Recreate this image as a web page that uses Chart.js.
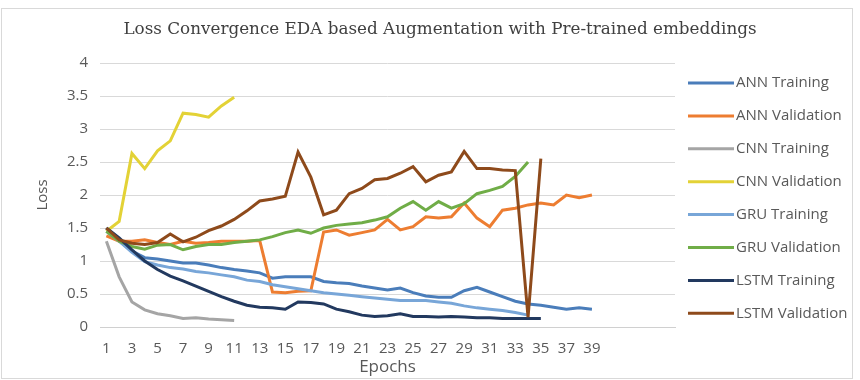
<!DOCTYPE html>
<html>
<head>
<meta charset="utf-8">
<script src="https://cdn.jsdelivr.net/npm/chart.js@4.4.1/dist/chart.umd.min.js"></script>
<style>
  html, body { margin: 0; padding: 0; background: #ffffff; }
  #wrap { width: 860px; height: 380px; }
</style>
</head>
<body>
<div id="wrap"><canvas id="lossChart" width="860" height="380"></canvas></div>
<script>
// Epoch labels (the axis keeps a few empty slots after epoch 39)
const epochs = ['1','2','3','4','5','6','7','8','9','10','11','12','13','14','15','16','17','18','19','20',
  '21','22','23','24','25','26','27','28','29','30','31','32','33','34','35','36','37','38','39',
  '','','','','',''];

// Loss per epoch for each model
const annTraining   = [1.5,1.3,1.15,1.05,1.03,1.0,0.97,0.97,0.94,0.9,0.87,0.85,0.82,0.74,0.76,0.76,0.76,0.69,0.67,0.66,
                       0.62,0.59,0.56,0.59,0.52,0.47,0.45,0.45,0.55,0.6,0.53,0.46,0.39,0.35,0.33,0.3,0.27,0.29,0.27];
const annValidation = [1.38,1.3,1.3,1.32,1.28,1.25,1.3,1.27,1.28,1.3,1.3,1.3,1.31,0.53,0.52,0.54,0.55,1.44,1.47,1.39,
                       1.43,1.47,1.63,1.47,1.52,1.67,1.65,1.67,1.88,1.65,1.52,1.77,1.8,1.85,1.88,1.85,2.0,1.96,2.0];
const cnnTraining   = [1.3,0.76,0.38,0.26,0.2,0.17,0.13,0.14,0.12,0.11,0.1];
const cnnValidation = [1.45,1.6,2.63,2.4,2.67,2.82,3.24,3.22,3.18,3.35,3.48];
const gruTraining   = [1.45,1.3,1.13,0.99,0.94,0.9,0.88,0.84,0.82,0.79,0.76,0.71,0.69,0.64,0.61,0.58,0.55,0.52,0.5,0.48,
                       0.46,0.44,0.42,0.4,0.4,0.4,0.38,0.36,0.32,0.29,0.27,0.25,0.22,0.18];
const gruValidation = [1.45,1.3,1.22,1.18,1.24,1.25,1.17,1.22,1.25,1.25,1.28,1.3,1.32,1.37,1.43,1.47,1.42,1.5,1.54,1.56,
                       1.58,1.62,1.67,1.8,1.9,1.77,1.9,1.8,1.87,2.02,2.07,2.13,2.28,2.5];
const lstmTraining  = [1.5,1.35,1.17,1.0,0.87,0.77,0.7,0.62,0.54,0.46,0.39,0.33,0.3,0.29,0.27,0.38,0.37,0.35,0.27,0.23,
                       0.18,0.16,0.17,0.2,0.16,0.16,0.15,0.16,0.15,0.14,0.14,0.13,0.13,0.13,0.13];
const lstmValidation = [1.5,1.32,1.27,1.25,1.28,1.41,1.29,1.36,1.46,1.53,1.63,1.76,1.91,1.94,1.98,2.65,2.27,1.7,1.77,2.02,
                        2.1,2.23,2.25,2.33,2.43,2.2,2.3,2.35,2.66,2.4,2.4,2.38,2.37,0.15,2.55];

const seriesNames  = ['ANN Training','ANN Validation','CNN Training','CNN Validation',
                      'GRU Training','GRU Validation','LSTM Training','LSTM Validation'];
const seriesValues = [annTraining, annValidation, cnnTraining, cnnValidation,
                      gruTraining, gruValidation, lstmTraining, lstmValidation];
const seriesColors = ['#4A7DBA','#ED7D31','#A5A5A5','#E3D236','#78A6D8','#70AD47','#22395F','#8E4A1B'];

const TEXT = '#595959';
const SANS = '"Open Sans", sans-serif';

// Background, frame and chart title
const frame = {
  id: 'frame',
  beforeDraw(chart) {
    const ctx = chart.ctx;
    ctx.save();
    ctx.fillStyle = '#ffffff';
    ctx.fillRect(0, 0, chart.width, chart.height);
    ctx.strokeStyle = '#D9D9D9';
    ctx.lineWidth = 1;
    ctx.strokeRect(1.5, 8.5, 851, 370);
    ctx.fillStyle = '#404040';
    ctx.font = '16.8px "DejaVu Serif", serif';
    ctx.textAlign = 'center';
    ctx.textBaseline = 'middle';
    ctx.fillText('Loss Convergence EDA based Augmentation with Pre-trained embeddings', 440, 30);
    ctx.restore();
  }
};

// Legend on the right: line sample followed by the series name
const sideLegend = {
  id: 'sideLegend',
  afterDraw(chart) {
    const ctx = chart.ctx;
    ctx.save();
    ctx.font = '15px ' + SANS;
    ctx.textBaseline = 'middle';
    ctx.textAlign = 'left';
    chart.data.datasets.forEach((ds, i) => {
      const y = 83 + i * 32.9;
      ctx.strokeStyle = ds.borderColor;
      ctx.lineWidth = 3;
      ctx.beginPath();
      ctx.moveTo(688, y);
      ctx.lineTo(734, y);
      ctx.stroke();
      ctx.fillStyle = TEXT;
      ctx.fillText(ds.label, 736, y);
    });
    ctx.restore();
  }
};

const datasets = seriesNames.map((name, i) => ({
  label: name,
  data: seriesValues[i],
  borderColor: seriesColors[i],
  backgroundColor: seriesColors[i],
  borderWidth: 3,
  pointRadius: 0,
  pointHoverRadius: 0,
  tension: 0,
  fill: false,
  order: seriesNames.length - i
}));

new Chart(document.getElementById('lossChart'), {
  type: 'line',
  data: { labels: epochs, datasets },
  plugins: [frame, sideLegend],
  options: {
    responsive: false,
    animation: false,
    events: [],
    layout: { padding: { top: 63, right: 185, bottom: 0, left: 0 } },
    plugins: {
      legend: { display: false },
      title: { display: false },
      tooltip: { enabled: false }
    },
    scales: {
      x: {
        type: 'category',
        offset: true,
        afterFit(scale) { scale.height = 53; },
        grid: { display: false, drawTicks: false },
        border: { display: true, color: '#D0D0D0', width: 1 },
        ticks: {
          autoSkip: false,
          maxRotation: 0,
          padding: 13,
          color: TEXT,
          font: { family: SANS, size: 15 },
          callback(value, index) { return index % 2 === 0 ? this.getLabelForValue(value) : ''; }
        },
        title: {
          display: true,
          text: 'Epochs',
          color: TEXT,
          font: { family: SANS, size: 17 },
          padding: { top: 0, bottom: 3 }
        }
      },
      y: {
        min: 0,
        max: 4,
        afterFit(scale) { scale.width = 100; },
        grid: { color: '#D9D9D9', lineWidth: 1, drawTicks: false },
        border: { display: false },
        ticks: {
          stepSize: 0.5,
          padding: 12,
          color: TEXT,
          font: { family: SANS, size: 15 },
          callback(value) { return String(value); }
        },
        title: {
          display: true,
          text: 'Loss',
          color: TEXT,
          font: { family: SANS, size: 15 },
          padding: { top: 34, bottom: 0 }
        }
      }
    }
  }
});
</script>
</body>
</html>
